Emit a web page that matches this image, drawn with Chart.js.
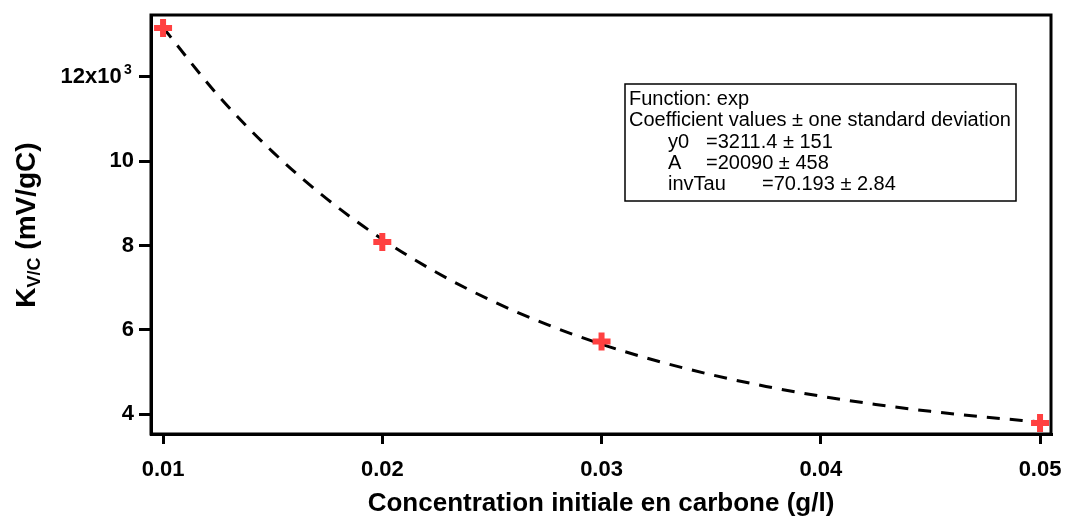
<!DOCTYPE html>
<html>
<head>
<meta charset="utf-8">
<script src="https://cdn.jsdelivr.net/npm/chart.js@4.4.1/dist/chart.umd.min.js"></script>
<style>
  html, body { margin: 0; padding: 0; background: #fff; }
  #wrap { width: 1066px; height: 516px; position: relative; }
</style>
</head>
<body>
<div id="wrap"><canvas id="chart" width="1066" height="516"></canvas></div>
<script>
// measured points (g/l -> mV/gC)
const concentrations = [0.01, 0.02, 0.03, 0.05];
const kValues = [13160, 8080, 5720, 3790];

// dashed exp fit curve
const fitX = [0.01, 0.0125, 0.015, 0.0175, 0.02, 0.0225, 0.025, 0.0275, 0.03, 0.0325, 0.035, 0.0375, 0.04, 0.0425, 0.045, 0.0475, 0.05];
const fitY = [13169, 11566, 10221, 9093, 8146, 7352, 6686, 6127, 5657, 5264, 4934, 4656, 4424, 4229, 4065, 3928, 3812];

const xTicks = [0.01, 0.02, 0.03, 0.04, 0.05];
const yTicks = [4000, 6000, 8000, 10000, 12000];

const fitLines = [
  'Function: exp',
  'Coefficient values \u00b1 one standard deviation',
  ['y0', '=3211.4 \u00b1 151'],
  ['A', '=20090 \u00b1 458'],
  ['invTau', '=70.193 \u00b1 2.84']
];

const FONT = '"Liberation Sans", Arial, sans-serif';

// frame, y title, exponent and fit box
const extras = {
  id: 'extras',
  afterDraw(chart) {
    const ctx = chart.ctx;
    const a = chart.chartArea;
    ctx.save();
    ctx.strokeStyle = '#000';
    ctx.lineWidth = 3;
    ctx.strokeRect(a.left, a.top, a.right - a.left, a.bottom - a.top);

    // x10^3 exponent next to the top tick label
    const y12 = chart.scales.y.getPixelForValue(12000);
    ctx.fillStyle = '#000';
    ctx.font = 'bold 14px ' + FONT;
    ctx.textAlign = 'left';
    ctx.textBaseline = 'alphabetic';
    ctx.fillText('3', 124, y12 - 3);

    // y axis title with subscript
    ctx.translate(35, 225);
    ctx.rotate(-Math.PI / 2);
    ctx.font = 'bold 28px ' + FONT;
    const wK = ctx.measureText('K').width;
    ctx.font = 'bold 18px ' + FONT;
    const wSub = ctx.measureText('V/C').width;
    ctx.font = 'bold 28px ' + FONT;
    const wRest = ctx.measureText(' (mV/gC)').width;
    let x = -(wK + wSub + wRest) / 2;
    ctx.fillText('K', x, 0);
    x += wK;
    ctx.font = 'bold 18px ' + FONT;
    ctx.fillText('V/C', x, 5);
    x += wSub;
    ctx.font = 'bold 28px ' + FONT;
    ctx.fillText(' (mV/gC)', x, 0);
    ctx.restore();

    // fit results box
    ctx.save();
    ctx.fillStyle = '#fff';
    ctx.fillRect(625, 84, 391, 117);
    ctx.strokeStyle = '#000';
    ctx.lineWidth = 1.5;
    ctx.strokeRect(625, 84, 391, 117);
    ctx.fillStyle = '#000';
    ctx.font = '20px ' + FONT;
    ctx.textBaseline = 'alphabetic';
    fitLines.forEach((line, i) => {
      const yy = 105 + i * 21.3;
      if (typeof line === 'string') {
        ctx.fillText(line, 629, yy);
      } else {
        ctx.fillText(line[0], 668, yy);
        ctx.fillText(line[1], line[0] === 'invTau' ? 762 : 706, yy);
      }
    });
    ctx.restore();
  }
};

new Chart(document.getElementById('chart'), {
  type: 'scatter',
  data: {
    datasets: [
      {
        label: 'fit',
        type: 'line',
        data: fitX.map((x, i) => ({ x, y: fitY[i] })),
        borderColor: '#000',
        borderWidth: 3,
        borderDash: [13, 10],
        pointRadius: 0,
        fill: false,
        cubicInterpolationMode: 'monotone',
        order: 2
      },
      {
        label: 'K',
        data: concentrations.map((x, i) => ({ x, y: kValues[i] })),
        pointStyle: 'cross',
        pointRadius: 9,
        pointBorderWidth: 6,
        borderColor: 'rgb(255,64,64)',
        backgroundColor: 'rgb(255,64,64)',
        order: 1
      }
    ]
  },
  options: {
    responsive: false,
    animation: false,
    devicePixelRatio: 1,
    layout: { padding: { top: 14, right: 13, left: 0, bottom: 0 } },
    plugins: { legend: { display: false }, tooltip: { enabled: false } },
    scales: {
      x: {
        type: 'linear',
        min: 0.00945,
        max: 0.0505,
        afterBuildTicks: s => { s.ticks = xTicks.map(v => ({ value: v })); },
        afterFit: s => { s.height = 82; s.paddingLeft = 0; s.paddingRight = 0; },
        border: { display: true, color: '#000', width: 3 },
        grid: { drawOnChartArea: false, drawTicks: true, tickLength: 10, color: '#000', lineWidth: 3 },
        ticks: {
          color: '#000',
          font: { family: FONT, size: 22, weight: 'bold' },
          padding: 13,
          maxRotation: 0,
          callback: v => v.toFixed(2)
        },
        title: {
          display: true,
          text: 'Concentration initiale en carbone (g/l)',
          color: '#000',
          font: { family: FONT, size: 26, weight: 'bold' },
          padding: { top: 0, bottom: -3 }
        }
      },
      y: {
        type: 'linear',
        min: 3527,
        max: 13467,
        afterBuildTicks: s => { s.ticks = yTicks.map(v => ({ value: v })); },
        afterFit: s => { s.width = 151; s.paddingTop = 0; s.paddingBottom = 0; },
        border: { display: true, color: '#000', width: 3 },
        grid: { drawOnChartArea: false, drawTicks: true, tickLength: 12, color: '#000', lineWidth: 3 },
        ticks: {
          color: '#000',
          font: { family: FONT, size: 22, weight: 'bold' },
          padding: 5,
          callback: v => v === 12000 ? '12x10  ' : String(v / 1000)
        }
      }
    }
  },
  plugins: [extras]
});
</script>
</body>
</html>
